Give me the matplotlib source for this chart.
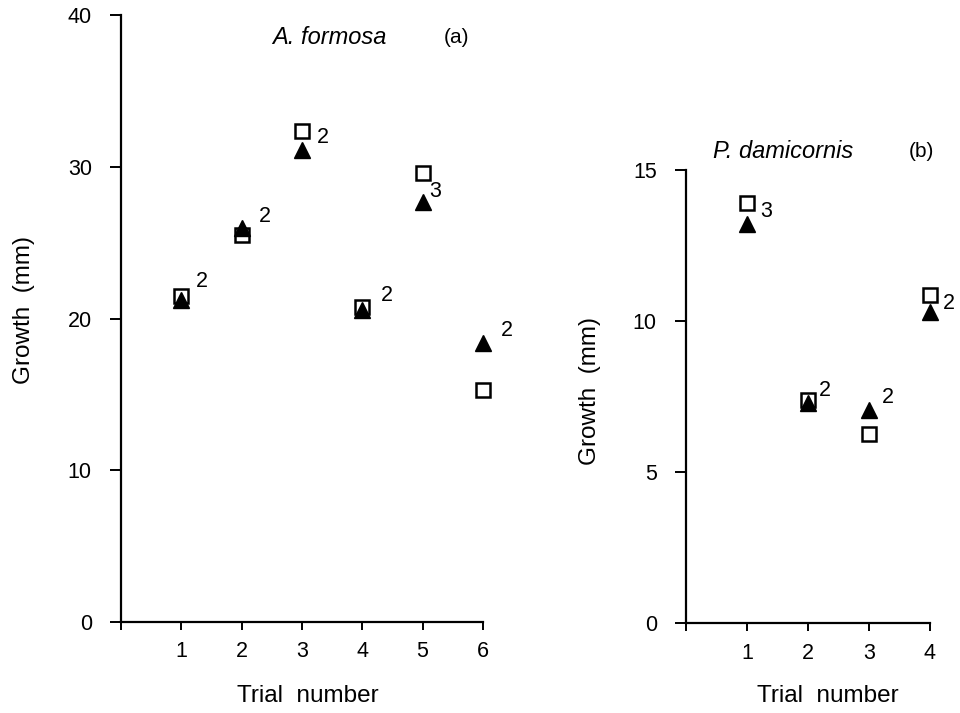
import matplotlib.pyplot as plt

plt.rcParams['font.family'] = ['Liberation Sans', 'DejaVu Sans']

# A. formosa, trials 1-6
trials_a = [1, 2, 3, 4, 5, 6]
square_a = [21.5, 25.5, 32.4, 20.8, 29.6, 15.3]
triangle_a = [21.2, 26.0, 31.1, 20.6, 27.7, 18.4]
n_a = ['2', '2', '2', '2', '3', '2']

# P. damicornis, trials 1-4
trials_b = [1, 2, 3, 4]
square_b = [13.9, 7.37, 6.27, 10.85]
triangle_b = [13.2, 7.30, 7.05, 10.3]
n_b = ['3', '2', '2', '2']

# offsets (points) of the n labels from the upper marker
offs_a = [(15, 10), (17, 8), (15, -5), (18, 8), (9, -13), (17, 9)]
offs_b = [(14, -6), (12, 7), (14, 9), (14, -6)]


def draw_panel(ax, trials, sq, tri, labels, offs, ymax, ystep):
    ax.plot(trials, sq, 's', ms=10, mfc='white', mec='black', mew=1.8,
            zorder=3, clip_on=False)
    ax.plot(trials, tri, '^', ms=12, color='black', zorder=4, clip_on=False)
    for t, s, r, lab, (dx, dy) in zip(trials, sq, tri, labels, offs):
        ax.annotate(lab, (t, max(s, r)), xytext=(dx, dy), textcoords='offset points',
                    ha='center', va='center', fontsize=15.5)

    ax.set_xlim(0, len(trials))
    ax.set_ylim(0, ymax)
    ax.set_xticks(range(0, len(trials) + 1))
    ax.set_xticklabels([''] + [str(t) for t in trials])
    ax.set_yticks(range(0, ymax + 1, ystep))
    for side in ['top', 'right']:
        ax.spines[side].set_visible(False)
    for side in ['left', 'bottom']:
        ax.spines[side].set_linewidth(1.6)
    ax.tick_params(axis='x', length=6, width=1.4, pad=8, labelsize=15.5)
    ax.tick_params(axis='y', length=8, width=1.4, pad=13, labelsize=15.5)


fig = plt.figure(figsize=(9.6, 7.13), dpi=100)
ax1 = fig.add_axes([0.126, 0.1276, 0.377, 0.851])
ax2 = fig.add_axes([0.7146, 0.126, 0.254, 0.6356])

draw_panel(ax1, trials_a, square_a, triangle_a, n_a, offs_a, 40, 10)
draw_panel(ax2, trials_b, square_b, triangle_b, n_b, offs_b, 15, 5)

ax1.set_ylabel('Growth  (mm)', fontsize=17.5)
ax1.yaxis.set_label_coords(-0.238, 0.514)
ax1.set_xlabel('Trial  number', fontsize=17.5)
ax1.xaxis.set_label_coords(0.517, -0.104)
ax1.text(0.575, 0.964, 'A. formosa', transform=ax1.transAxes, style='italic',
         fontsize=17, ha='center', va='center')
ax1.text(0.928, 0.964, '(a)', transform=ax1.transAxes, fontsize=15,
         ha='center', va='center')

ax2.set_ylabel('Growth  (mm)', fontsize=17.5)
ax2.yaxis.set_label_coords(-0.348, 0.512)
ax2.set_xlabel('Trial  number', fontsize=17.5)
ax2.xaxis.set_label_coords(0.58, -0.137)
ax2.text(0.40, 1.04, 'P. damicornis', transform=ax2.transAxes, style='italic',
         fontsize=17, ha='center', va='center')
ax2.text(0.967, 1.04, '(b)', transform=ax2.transAxes, fontsize=15,
         ha='center', va='center')

fig.savefig('out.png', dpi=100)
